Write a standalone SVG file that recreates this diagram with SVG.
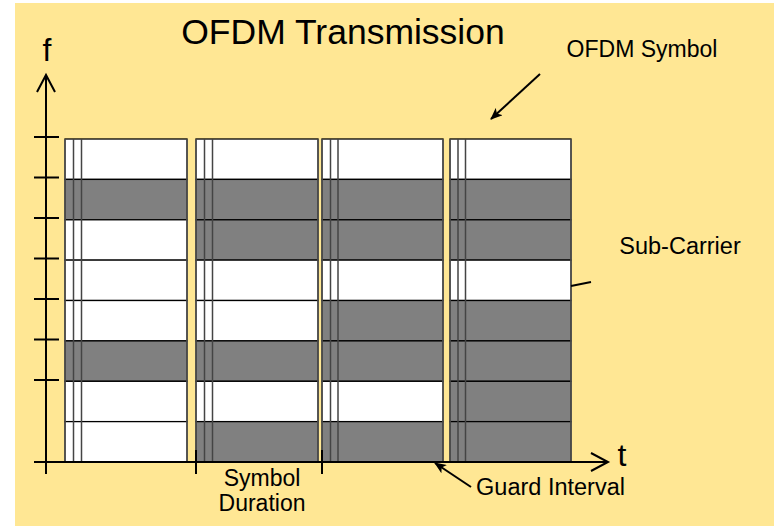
<svg xmlns="http://www.w3.org/2000/svg" width="774" height="526" viewBox="0 0 774 526">
<defs>
<style>
.w{fill:#FFFFFF;stroke:#000;stroke-width:1.3}
.g{fill:#808080;stroke:#000;stroke-width:1.3}
.v{stroke:#444;stroke-width:1.5;fill:none}
.e{stroke:#555;stroke-width:1.5;fill:none}
.ax{stroke:#000;stroke-width:2;fill:none}
.ln{stroke:#000;stroke-width:2;fill:none}
text{font-family:"Liberation Sans",Arial,sans-serif;fill:#000}
</style>
<marker id="ah" viewBox="0 0 12 10" refX="11" refY="5" markerWidth="12" markerHeight="10" markerUnits="userSpaceOnUse" orient="auto">
<path d="M0,0 L12,5 L0,10 L3,5 Z" fill="#000"/>
</marker>
</defs>
<rect x="15" y="3" width="759" height="523" fill="#FFE794"/>
<text x="343" y="44" font-size="35.5" text-anchor="middle">OFDM Transmission</text>

<g id="symbol1">
<rect class="w" x="65" y="139" width="122" height="40.4"/>
<rect class="g" x="65" y="179.4" width="122" height="40.4"/>
<rect class="w" x="65" y="219.8" width="122" height="40.4"/>
<rect class="w" x="65" y="260.1" width="122" height="40.4"/>
<rect class="w" x="65" y="300.5" width="122" height="40.4"/>
<rect class="g" x="65" y="340.9" width="122" height="40.4"/>
<rect class="w" x="65" y="381.3" width="122" height="40.4"/>
<rect class="w" x="65" y="421.6" width="122" height="40.4"/>
<path class="v" d="M73.5,139V462M81.5,139V462"/>
<path class="e" d="M65,139V462M187,139V462"/>
</g>
<g id="symbol2">
<rect class="w" x="196" y="139" width="122" height="40.4"/>
<rect class="g" x="196" y="179.4" width="122" height="40.4"/>
<rect class="g" x="196" y="219.8" width="122" height="40.4"/>
<rect class="w" x="196" y="260.1" width="122" height="40.4"/>
<rect class="w" x="196" y="300.5" width="122" height="40.4"/>
<rect class="g" x="196" y="340.9" width="122" height="40.4"/>
<rect class="w" x="196" y="381.3" width="122" height="40.4"/>
<rect class="g" x="196" y="421.6" width="122" height="40.4"/>
<path class="v" d="M204.5,139V462M212.5,139V462"/>
<path class="e" d="M196,139V462M318,139V462"/>
</g>
<g id="symbol3">
<rect class="w" x="322" y="139" width="121" height="40.4"/>
<rect class="g" x="322" y="179.4" width="121" height="40.4"/>
<rect class="g" x="322" y="219.8" width="121" height="40.4"/>
<rect class="w" x="322" y="260.1" width="121" height="40.4"/>
<rect class="g" x="322" y="300.5" width="121" height="40.4"/>
<rect class="g" x="322" y="340.9" width="121" height="40.4"/>
<rect class="w" x="322" y="381.3" width="121" height="40.4"/>
<rect class="g" x="322" y="421.6" width="121" height="40.4"/>
<path class="v" d="M330.5,139V462M338,139V462"/>
<path class="e" d="M322,139V462M443,139V462"/>
</g>
<g id="symbol4">
<rect class="w" x="450" y="139" width="121" height="40.4"/>
<rect class="g" x="450" y="179.4" width="121" height="40.4"/>
<rect class="g" x="450" y="219.8" width="121" height="40.4"/>
<rect class="w" x="450" y="260.1" width="121" height="40.4"/>
<rect class="g" x="450" y="300.5" width="121" height="40.4"/>
<rect class="g" x="450" y="340.9" width="121" height="40.4"/>
<rect class="g" x="450" y="381.3" width="121" height="40.4"/>
<rect class="g" x="450" y="421.6" width="121" height="40.4"/>
<path class="v" d="M458,139V462M465.5,139V462"/>
<path class="e" d="M450,139V462M571,139V462"/>
</g>

<g id="axes">
<path class="ax" d="M46,75V474"/>
<path class="ax" d="M37,92L46,75L55,92"/>
<path class="ax" d="M34,462H608"/>
<path class="ax" d="M591,453L608,462L591,471"/>
<path class="ax" d="M34,137H59M34,177.5H59M34,218H59M34,258.5H59M34,299H59M34,339.5H59M34,380H59"/>
<path class="ax" d="M196,450V474M322,450V474"/>
<text x="47" y="61" font-size="32" text-anchor="middle">f</text>
<text x="622" y="466" font-size="32" text-anchor="middle">t</text>
</g>

<g id="connectors">
<path class="ln" d="M540,74L491,119" marker-end="url(#ah)"/>
<path class="ln" d="M471,487L435,463" marker-end="url(#ah)"/>
<path class="ln" d="M571,286L591,282"/>
</g>

<g id="labels">
<text x="642" y="57" font-size="23" text-anchor="middle">OFDM Symbol</text>
<text x="680" y="254" font-size="23.5" text-anchor="middle">Sub-Carrier</text>
<text x="262" y="486" font-size="23" text-anchor="middle">Symbol</text>
<text x="262" y="511" font-size="23" text-anchor="middle">Duration</text>
<text x="550.5" y="495" font-size="23.5" text-anchor="middle">Guard Interval</text>
</g>
</svg>
